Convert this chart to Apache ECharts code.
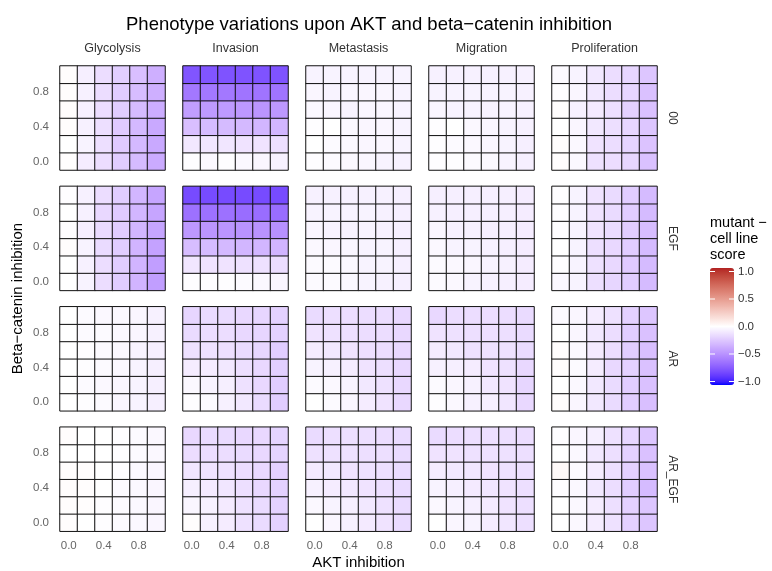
<!DOCTYPE html>
<html><head><meta charset="utf-8">
<script src="https://cdn.jsdelivr.net/npm/echarts@6/dist/echarts.min.js"></script>
<style>html,body{margin:0;padding:0;background:#fff}#c{width:772px;height:571px}</style>
</head><body><div id="c"></div><script>
// ---------------- DATA ----------------
const aktLevels = ['0.0','0.2','0.4','0.6','0.8','1.0'];
const betaLevels = ['0.0','0.2','0.4','0.6','0.8','1.0'];
const phenotypes = ['Glycolysis','Invasion','Metastasis','Migration','Proliferation'];
const conditions = ['00','EGF','AR','AR_EGF'];
const legendBreaks = [1.0, 0.5, 0.0, -0.5, -1.0];
// each array: rows from beta = 0.0 (bottom) to 1.0 (top); columns AKT 0.0 .. 1.0
const glycolysis_00 = [
  [0.01,-0.08,-0.15,-0.22,-0.30,-0.37],
  [0.00,-0.05,-0.14,-0.23,-0.31,-0.38],
  [0.01,-0.06,-0.14,-0.23,-0.31,-0.38],
  [0.01,-0.06,-0.15,-0.22,-0.30,-0.36],
  [0.01,-0.06,-0.15,-0.22,-0.29,-0.35],
  [0.01,-0.07,-0.15,-0.21,-0.28,-0.35]];
const invasion_00 = [
  [-0.01,-0.03,-0.01,-0.03,-0.04,-0.06],
  [-0.10,-0.11,-0.11,-0.12,-0.12,-0.14],
  [-0.28,-0.30,-0.30,-0.31,-0.32,-0.32],
  [-0.43,-0.45,-0.45,-0.46,-0.47,-0.46],
  [-0.60,-0.60,-0.60,-0.62,-0.62,-0.62],
  [-0.76,-0.76,-0.77,-0.77,-0.77,-0.77]];
const metastasis_00 = [
  [-0.01,-0.02,-0.03,-0.04,-0.05,-0.06],
  [0.00,-0.02,-0.03,-0.04,-0.04,-0.05],
  [-0.01,0.00,-0.03,-0.04,-0.04,-0.05],
  [-0.03,-0.04,-0.05,-0.04,-0.04,-0.05],
  [-0.04,-0.05,-0.04,-0.04,-0.04,-0.05],
  [-0.05,-0.05,-0.05,-0.05,-0.05,-0.05]];
const migration_00 = [
  [-0.01,-0.01,-0.02,-0.03,-0.05,-0.07],
  [-0.01,-0.02,-0.03,-0.04,-0.05,-0.07],
  [-0.01,0.00,-0.03,-0.04,-0.05,-0.06],
  [-0.04,-0.05,-0.05,-0.05,-0.05,-0.06],
  [-0.05,-0.05,-0.05,-0.05,-0.05,-0.06],
  [-0.06,-0.06,-0.06,-0.06,-0.06,-0.06]];
const proliferation_00 = [
  [0.01,-0.03,-0.13,-0.15,-0.18,-0.27],
  [0.01,-0.03,-0.12,-0.15,-0.19,-0.26],
  [0.00,-0.04,-0.10,-0.14,-0.18,-0.25],
  [0.01,-0.06,-0.09,-0.14,-0.20,-0.27],
  [-0.01,-0.04,-0.10,-0.15,-0.18,-0.27],
  [-0.02,-0.05,-0.10,-0.15,-0.18,-0.25]];
const glycolysis_EGF = [
  [0.00,-0.05,-0.15,-0.22,-0.33,-0.43],
  [0.00,-0.06,-0.15,-0.22,-0.33,-0.43],
  [0.01,-0.05,-0.16,-0.22,-0.33,-0.41],
  [-0.01,-0.07,-0.16,-0.22,-0.32,-0.40],
  [0.00,-0.06,-0.17,-0.23,-0.32,-0.40],
  [-0.01,-0.06,-0.15,-0.22,-0.32,-0.40]];
const invasion_EGF = [
  [-0.01,-0.01,-0.01,-0.02,-0.03,-0.04],
  [-0.11,-0.12,-0.12,-0.13,-0.13,-0.15],
  [-0.29,-0.30,-0.31,-0.32,-0.32,-0.33],
  [-0.46,-0.47,-0.47,-0.48,-0.48,-0.49],
  [-0.63,-0.63,-0.63,-0.65,-0.65,-0.65],
  [-0.80,-0.80,-0.80,-0.80,-0.80,-0.80]];
const metastasis_EGF = [
  [-0.02,-0.02,-0.03,-0.05,-0.06,-0.07],
  [-0.02,-0.02,-0.03,-0.05,-0.05,-0.07],
  [-0.03,-0.04,-0.04,-0.05,-0.05,-0.07],
  [-0.04,-0.05,-0.05,-0.05,-0.06,-0.07],
  [-0.05,-0.05,-0.05,-0.05,-0.06,-0.07],
  [-0.06,-0.06,-0.06,-0.06,-0.06,-0.07]];
const migration_EGF = [
  [-0.02,-0.03,-0.05,-0.06,-0.07,-0.08],
  [-0.02,-0.03,-0.04,-0.05,-0.06,-0.08],
  [-0.03,-0.05,-0.05,-0.06,-0.07,-0.08],
  [-0.04,-0.06,-0.06,-0.07,-0.07,-0.08],
  [-0.06,-0.07,-0.07,-0.07,-0.07,-0.08],
  [-0.07,-0.07,-0.07,-0.07,-0.07,-0.08]];
const proliferation_EGF = [
  [-0.03,-0.05,-0.14,-0.18,-0.22,-0.30],
  [-0.01,-0.05,-0.13,-0.17,-0.23,-0.30],
  [0.00,-0.05,-0.14,-0.17,-0.22,-0.30],
  [-0.01,-0.05,-0.12,-0.16,-0.22,-0.29],
  [-0.01,-0.05,-0.12,-0.16,-0.22,-0.30],
  [-0.01,-0.05,-0.12,-0.16,-0.22,-0.30]];
const glycolysis_AR = [
  [0.00,-0.01,-0.02,-0.04,-0.05,-0.07],
  [0.00,-0.02,-0.03,-0.04,-0.05,-0.07],
  [0.00,-0.01,-0.02,-0.03,-0.05,-0.07],
  [0.00,-0.01,-0.02,-0.03,-0.05,-0.07],
  [0.00,-0.02,-0.02,-0.03,-0.04,-0.06],
  [0.00,-0.02,-0.03,-0.03,-0.04,-0.06]];
const invasion_AR = [
  [-0.01,-0.02,-0.06,-0.10,-0.16,-0.22],
  [-0.03,-0.05,-0.07,-0.13,-0.17,-0.22],
  [-0.08,-0.08,-0.10,-0.14,-0.17,-0.21],
  [-0.13,-0.13,-0.14,-0.16,-0.18,-0.22],
  [-0.16,-0.15,-0.15,-0.17,-0.18,-0.20],
  [-0.18,-0.16,-0.16,-0.17,-0.18,-0.20]];
const metastasis_AR = [
  [0.00,-0.02,-0.04,-0.08,-0.12,-0.17],
  [-0.02,-0.03,-0.05,-0.10,-0.13,-0.17],
  [-0.05,-0.06,-0.08,-0.12,-0.14,-0.17],
  [-0.08,-0.10,-0.12,-0.14,-0.15,-0.17],
  [-0.12,-0.13,-0.14,-0.15,-0.15,-0.17],
  [-0.16,-0.14,-0.15,-0.15,-0.15,-0.17]];
const migration_AR = [
  [-0.01,-0.03,-0.06,-0.07,-0.11,-0.17],
  [-0.02,-0.04,-0.06,-0.10,-0.12,-0.18],
  [-0.06,-0.07,-0.08,-0.12,-0.13,-0.17],
  [-0.08,-0.10,-0.13,-0.13,-0.13,-0.16],
  [-0.12,-0.13,-0.14,-0.14,-0.14,-0.16],
  [-0.17,-0.15,-0.15,-0.15,-0.15,-0.16]];
const proliferation_AR = [
  [0.01,-0.04,-0.10,-0.16,-0.22,-0.28],
  [0.00,-0.03,-0.10,-0.16,-0.22,-0.27],
  [0.01,-0.02,-0.08,-0.17,-0.20,-0.27],
  [0.01,-0.03,-0.09,-0.15,-0.22,-0.28],
  [0.00,-0.04,-0.10,-0.15,-0.22,-0.27],
  [-0.02,-0.04,-0.08,-0.13,-0.20,-0.25]];
const glycolysis_AR_EGF = [
  [0.01,0.00,-0.01,-0.02,-0.03,-0.04],
  [0.01,0.01,-0.01,-0.02,-0.03,-0.04],
  [0.01,0.01,0.00,-0.02,-0.03,-0.04],
  [0.01,0.01,0.00,-0.01,-0.03,-0.04],
  [0.00,0.00,0.00,-0.01,-0.02,-0.03],
  [0.01,0.00,0.00,-0.01,-0.02,-0.03]];
const invasion_AR_EGF = [
  [0.01,-0.06,-0.08,-0.13,-0.16,-0.20],
  [-0.04,-0.06,-0.09,-0.13,-0.16,-0.20],
  [-0.07,-0.09,-0.11,-0.14,-0.17,-0.20],
  [-0.11,-0.12,-0.13,-0.15,-0.17,-0.20],
  [-0.15,-0.15,-0.15,-0.16,-0.17,-0.19],
  [-0.17,-0.16,-0.16,-0.17,-0.17,-0.19]];
const metastasis_AR_EGF = [
  [0.00,-0.04,-0.06,-0.09,-0.12,-0.16],
  [-0.03,-0.05,-0.07,-0.10,-0.13,-0.16],
  [-0.06,-0.08,-0.10,-0.12,-0.14,-0.16],
  [-0.09,-0.10,-0.12,-0.13,-0.14,-0.16],
  [-0.13,-0.13,-0.13,-0.14,-0.14,-0.16],
  [-0.16,-0.14,-0.14,-0.14,-0.15,-0.16]];
const migration_AR_EGF = [
  [0.00,-0.04,-0.05,-0.08,-0.11,-0.14],
  [-0.03,-0.05,-0.07,-0.09,-0.12,-0.14],
  [-0.05,-0.07,-0.09,-0.11,-0.12,-0.14],
  [-0.08,-0.10,-0.11,-0.12,-0.13,-0.14],
  [-0.12,-0.12,-0.13,-0.13,-0.13,-0.14],
  [-0.16,-0.15,-0.14,-0.14,-0.14,-0.15]];
const proliferation_AR_EGF = [
  [0.00,-0.03,-0.08,-0.13,-0.20,-0.25],
  [0.00,-0.03,-0.08,-0.14,-0.20,-0.25],
  [-0.01,-0.03,-0.10,-0.15,-0.22,-0.30],
  [0.03,-0.02,-0.08,-0.14,-0.20,-0.27],
  [0.00,-0.03,-0.10,-0.14,-0.20,-0.27],
  [-0.01,-0.04,-0.07,-0.13,-0.18,-0.25]];

const valueTable = [
  [glycolysis_00, invasion_00, metastasis_00, migration_00, proliferation_00],
  [glycolysis_EGF, invasion_EGF, metastasis_EGF, migration_EGF, proliferation_EGF],
  [glycolysis_AR, invasion_AR, metastasis_AR, migration_AR, proliferation_AR],
  [glycolysis_AR_EGF, invasion_AR_EGF, metastasis_AR_EGF, migration_AR_EGF, proliferation_AR_EGF]
];

// ---------------- COLOUR (Lab interpolation like ggplot gradient2) ----------------
function lin(c){c/=255;return c<=0.04045?c/12.92:Math.pow((c+0.055)/1.055,2.4);}
function gam(c){c=Math.max(0,Math.min(1,c));return Math.round(255*(c<=0.0031308?12.92*c:1.055*Math.pow(c,1/2.4)-0.055));}
function hex2lab(h){
  const r=lin(parseInt(h.substr(1,2),16)),g=lin(parseInt(h.substr(3,2),16)),b=lin(parseInt(h.substr(5,2),16));
  let X=(0.4124*r+0.3576*g+0.1805*b)/0.95047,Y=0.2126*r+0.7152*g+0.0722*b,Z=(0.0193*r+0.1192*g+0.9505*b)/1.08883;
  const f=t=>t>0.008856?Math.cbrt(t):7.787*t+16/116;
  const fx=f(X),fy=f(Y),fz=f(Z);
  return [116*fy-16,500*(fx-fy),200*(fy-fz)];
}
function lab2hex(L,a,b){
  const fy=(L+16)/116,fx=fy+a/500,fz=fy-b/200;
  const fi=t=>t*t*t>0.008856?t*t*t:(t-16/116)/7.787;
  const X=fi(fx)*0.95047,Y=fi(fy),Z=fi(fz)*1.08883;
  const r=3.2406*X-1.5372*Y-0.4986*Z,g=-0.9689*X+1.8758*Y+0.0415*Z,bb=0.0557*X-0.2040*Y+1.0570*Z;
  return '#'+[gam(r),gam(g),gam(bb)].map(v=>v.toString(16).padStart(2,'0')).join('');
}
const lowC=hex2lab('#0000FF'),midC=hex2lab('#FFFFFF'),highC=hex2lab('#B22222');
const ramp=[];
for(let i=0;i<=40;i++){
  const v=-1+i/20;
  let A,B,t;
  if(v<=0){A=lowC;B=midC;t=v+1;}else{A=midC;B=highC;t=v;}
  ramp.push(lab2hex(A[0]+(B[0]-A[0])*t,A[1]+(B[1]-A[1])*t,A[2]+(B[2]-A[2])*t));
}

// ---------------- LAYOUT ----------------
const gx0=60,gdx=123,gw=105,gy0=66,gdy=120.4,gh=104;
const font='"Liberation Sans", Arial, sans-serif';
const grids=[],xAxes=[],yAxes=[],series=[],titles=[],graphics=[];
titles.push({text:'Phenotype variations upon AKT and beta\u2212catenin inhibition',left:121,top:10,
  textStyle:{fontFamily:font,fontSize:18.5,fontWeight:'normal',color:'#000'}});
let k=0;
conditions.forEach((cond,r)=>{
  phenotypes.forEach((ph,c)=>{
    const left=gx0+c*gdx,top=gy0+r*gdy;
    grids.push({left:left,top:top,width:gw,height:gh,show:false});
    xAxes.push({type:'category',gridIndex:k,data:aktLevels,
      axisLine:{show:false},axisTick:{show:false},splitLine:{show:false},
      axisLabel:{show:r===conditions.length-1,interval:1,margin:9,color:'#666',fontFamily:font,fontSize:11.5}});
    yAxes.push({type:'category',gridIndex:k,data:betaLevels,
      axisLine:{show:false},axisTick:{show:false},splitLine:{show:false},
      axisLabel:{show:c===0,interval:1,margin:11,color:'#666',fontFamily:font,fontSize:11.5}});
    const data=[];
    valueTable[r][c].forEach((row,yi)=>row.forEach((v,xi)=>data.push([xi,yi,v])));
    series.push({type:'heatmap',xAxisIndex:k,yAxisIndex:k,data:data,
      itemStyle:{borderColor:'#111',borderWidth:1},emphasis:{disabled:true}});
    k++;
  });
});
phenotypes.forEach((ph,c)=>{
  graphics.push({type:'text',x:gx0+c*gdx+gw/2,y:49,
    style:{text:ph,fill:'#333',font:'12.5px '+font,textAlign:'center',textVerticalAlign:'middle'}});
});
conditions.forEach((cond,r)=>{
  graphics.push({type:'text',x:gx0+4*gdx+gw+15,y:gy0+r*gdy+gh/2,rotation:-Math.PI/2,
    style:{text:cond,fill:'#333',font:'12px '+font,textAlign:'center',textVerticalAlign:'middle'}});
});
graphics.push({type:'text',x:gx0+2*gdx+gw/2,y:563,
  style:{text:'AKT inhibition',fill:'#000',font:'15px '+font,textAlign:'center',textVerticalAlign:'middle'}});
graphics.push({type:'text',x:18,y:gy0+(3*gdy+gh)/2,rotation:Math.PI/2,
  style:{text:'Beta\u2212catenin inhibition',fill:'#000',font:'15px '+font,textAlign:'center',textVerticalAlign:'middle'}});
// legend
const lgX=710,lgY=268,lgW=24,lgH=117;
['mutant \u2212','cell line','score'].forEach((t,i)=>{
  graphics.push({type:'text',x:lgX,y:223+i*16,
    style:{text:t,fill:'#000',font:'14.5px '+font,textAlign:'left',textVerticalAlign:'middle'}});
});
legendBreaks.forEach(v=>{
  const y=lgY+(1-(v+1)/2)*lgH*0.94+lgH*0.03;
  graphics.push({type:'text',x:lgX+lgW+4,y:y,
    style:{text:v.toFixed(1).replace('-','\u2212'),fill:'#333',font:'11.5px '+font,textAlign:'left',textVerticalAlign:'middle'}});
  graphics.push({type:'line',shape:{x1:lgX,y1:y,x2:lgX+5,y2:y},style:{stroke:'#fff',lineWidth:1},z:100});
  graphics.push({type:'line',shape:{x1:lgX+lgW-5,y1:y,x2:lgX+lgW,y2:y},style:{stroke:'#fff',lineWidth:1},z:100});
});

const chart=echarts.init(document.getElementById('c'),null,{renderer:'canvas'});
chart.setOption({
  animation:false,
  backgroundColor:'#fff',
  title:titles,
  grid:grids,xAxis:xAxes,yAxis:yAxes,series:series,
  visualMap:{type:'continuous',min:-1.03,max:1.03,dimension:2,calculable:false,
    seriesIndex:series.map((s,i)=>i),
    left:lgX,top:lgY,itemWidth:lgW,itemHeight:lgH,text:['',''],showLabel:false,
    inRange:{color:ramp},padding:0,hoverLink:false},
  graphic:graphics
});
</script></body></html>
